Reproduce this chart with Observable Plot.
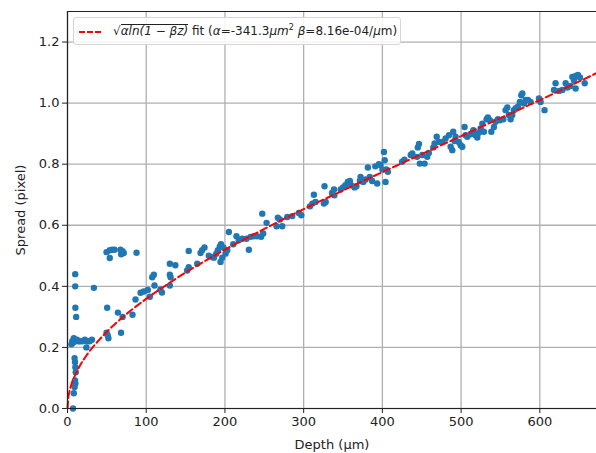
<!DOCTYPE html>
<html>
<head>
<meta charset="utf-8">
<script src="https://cdn.jsdelivr.net/npm/d3@7"></script>
<script src="https://cdn.jsdelivr.net/npm/@observablehq/plot@0.6"></script>
<style>
  html, body { margin: 0; padding: 0; background: #fff; }
  #wrap { position: relative; width: 596px; height: 453px; font-family: "DejaVu Sans", sans-serif; }
  #legend {
    position: absolute; left: 73px; top: 17px; width: 328px; height: 28px;
    background: rgba(255,255,255,0.85); border: 1px solid #d6d6d6; border-radius: 3px;
    box-sizing: border-box; font-size: 12px; color: #222; white-space: nowrap;
  }
  #legend .sample { position: absolute; left: 5px; top: 13px; width: 22px; height: 0;
    border-top: 2px dashed #ff0000; }
  #legend .txt { position: absolute; left: 39px; top: 5px; }
  .sq { display: inline-block; border-top: 1px solid #222; font-style: italic; line-height: 13px; }
</style>
</head>
<body>
<div id="wrap"><div id="legend"><div class="sample"></div><div class="txt">&#8730;<span class="sq">&#945;ln(1 &#8722; &#946;z)</span> fit (<i>&#945;</i>=-341.3<i>&#956;m</i><sup style="font-size:8px">2</sup> <i>&#946;</i>=8.16e-04/<i>&#956;</i>m)</div></div></div>
<script>
// Scatter data: depth (µm) and spread (pixel)
const depth = [
  7, 9.8, 9.8, 10, 11,
  5, 6, 7, 8, 10, 12, 14, 16, 19, 22, 25, 28, 31, 24,
  9, 9.5, 10, 10.5, 9.5, 10, 9, 8,
  33.5,
  49.6, 53.7, 56.8, 59.7, 67.3, 69.9, 71.5, 68.2, 53.7, 87.7,
  50.4, 49.6, 52, 51,
  64, 70, 68, 82.6, 86.4, 92.8, 97, 102, 104.6, 107.6, 109.7, 110.5, 118, 120, 130, 130, 131, 130, 137,
  152, 154, 154, 164.8, 169, 171, 174, 179.5, 184, 186, 189, 191, 193.5, 195, 198, 196.6, 194.4, 200.8, 203, 205,
  210.5, 214.7, 217.6, 227.4, 230.4, 232.5, 236.7, 246, 247.4, 248.6, 252.9, 265.6, 267.2, 269.8, 272.8, 279.2,
  285.5, 293.9, 297, 308, 311, 313, 315, 222, 241,
  325.7, 326.5, 328, 336, 338.5, 339, 347, 350, 353, 356, 358.7, 360.5, 364.7, 367, 371.4, 372.3, 375.7, 378.7,
  381.6, 384, 387, 391, 393.4, 395.6, 397.7, 400, 402, 403, 404, 405, 407, 425, 428, 436, 438, 444, 445, 446.5,
  447.6, 450.7, 453.6, 457, 459, 464.7, 466.3, 469, 471.8,
  476, 480.3, 484.5, 486.7, 488.8, 490, 491.7, 493, 497, 499.4, 501.5, 504.4, 505.7, 507.9, 512, 515.5, 518.4,
  520.6, 522.6, 524.8, 527, 529, 532.4, 534, 536.6, 538.4, 541.7, 543.8, 546.8, 549.3, 553.6, 556.5, 558.7,
  560.7, 562.9, 565, 567, 569.3, 572.2, 574.7, 576.5, 577.8, 579.8, 582, 584.9, 588.3, 598.9, 601, 606,
  618, 620, 624.3, 628.6, 632.8, 635, 639, 641.3, 643.3, 645.5, 648.4, 651, 645.5, 657
];
const spread = [
  0.00, 0.44, 0.40, 0.33, 0.30,
  0.21, 0.22, 0.215, 0.23, 0.22, 0.225, 0.22, 0.22, 0.22, 0.225, 0.22, 0.22, 0.225, 0.20,
  0.165, 0.152, 0.135, 0.119, 0.092, 0.082, 0.07, 0.05,
  0.395,
  0.512, 0.518, 0.52, 0.52, 0.52, 0.515, 0.509, 0.505, 0.493, 0.51,
  0.33, 0.248, 0.23, 0.24,
  0.314, 0.30, 0.248, 0.307, 0.357, 0.379, 0.383, 0.388, 0.366, 0.43, 0.438, 0.403, 0.39, 0.38, 0.474, 0.438, 0.43, 0.403, 0.469,
  0.452, 0.463, 0.516, 0.474, 0.509, 0.518, 0.527, 0.50, 0.496, 0.494, 0.507, 0.518, 0.531, 0.538, 0.527, 0.494, 0.48, 0.507, 0.518, 0.578,
  0.538, 0.564, 0.551, 0.556, 0.52, 0.562, 0.564, 0.562, 0.638, 0.573, 0.608, 0.597, 0.625, 0.619, 0.597, 0.627,
  0.63, 0.64, 0.633, 0.662, 0.671, 0.70, 0.676, 0.556, 0.564,
  0.671, 0.728, 0.676, 0.706, 0.717, 0.698, 0.717, 0.724, 0.731, 0.742, 0.745, 0.731, 0.724, 0.728, 0.745, 0.758, 0.742, 0.75,
  0.789, 0.758, 0.745, 0.793, 0.737, 0.80, 0.797, 0.783, 0.84, 0.813, 0.742, 0.783, 0.775, 0.808, 0.815, 0.83, 0.835, 0.824, 0.855, 0.866,
  0.802, 0.83, 0.802, 0.824, 0.837, 0.855, 0.868, 0.89, 0.873,
  0.873, 0.884, 0.895, 0.857, 0.846, 0.906, 0.876, 0.89, 0.873, 0.862, 0.857, 0.922, 0.895, 0.89, 0.898, 0.911, 0.895,
  0.887, 0.903, 0.917, 0.933, 0.906, 0.947, 0.953, 0.944, 0.906, 0.922, 0.939, 0.947, 0.944, 0.947, 0.977, 0.986,
  0.961, 0.947, 0.961, 0.977, 0.983, 0.988, 1.004, 1.026, 1.032, 0.999, 1.01, 1.01, 1.004, 1.015, 1.004, 0.977,
  1.043, 1.065, 1.04, 1.043, 1.065, 1.051, 1.056, 1.086, 1.075, 1.089, 1.092, 1.084, 1.048, 1.065
];
// Fit curve
const fitDepth  = [0, 1, 2, 5, 10, 15, 25, 40, 60, 80, 100, 130, 160, 200, 250, 300, 350, 400, 450, 500, 550, 600, 650, 672];
const fitSpread = [0, 0.035, 0.050, 0.079, 0.111, 0.137, 0.177, 0.224, 0.276, 0.320, 0.359, 0.412, 0.461, 0.520, 0.588, 0.653, 0.714, 0.774, 0.833, 0.892, 0.951, 1.010, 1.071, 1.098];
const xTicks = [0, 100, 200, 300, 400, 500, 600];
const yTicks = [0.0, 0.2, 0.4, 0.6, 0.8, 1.0, 1.2];

const pts = depth.map((d, i) => ({depth: d, spread: spread[i]}));
const fit = fitDepth.map((d, i) => ({depth: d, spread: fitSpread[i]}));

const chart = Plot.plot({
  width: 596,
  height: 453,
  marginLeft: 67,
  marginRight: 0,
  marginTop: 11,
  marginBottom: 45,
  style: {fontFamily: "DejaVu Sans, sans-serif", fontSize: "13px", color: "#222", background: "white", overflow: "visible"},
  x: {domain: [0, 672]},
  y: {domain: [0, 1.3]},
  marks: [
    Plot.gridX(xTicks, {stroke: "#b0b0b0", strokeOpacity: 1, strokeWidth: 1.3}),
    Plot.gridY(yTicks, {stroke: "#b0b0b0", strokeOpacity: 1, strokeWidth: 1.3}),
    Plot.axisX(xTicks, {tickSize: 5, tickPadding: 3, fontSize: 13, stroke: "#222",
      label: "Depth (μm)", labelAnchor: "center", labelArrow: "none", labelOffset: 40}),
    Plot.axisY(yTicks, {tickSize: 5, tickPadding: 3, fontSize: 13, stroke: "#222", tickFormat: d => d.toFixed(1),
      label: "Spread (pixel)", labelAnchor: "center", labelArrow: "none", labelOffset: 52}),
    Plot.dot(pts, {x: "depth", y: "spread", r: 3.2, fill: "#1f77b4", stroke: "none"}),
    Plot.line(fit, {x: "depth", y: "spread", stroke: "#ff0000", strokeWidth: 2, strokeDasharray: "7,3.5", curve: "monotone-x"}),
    Plot.ruleX([0], {stroke: "#222", strokeWidth: 1.2}),
    Plot.ruleY([0], {stroke: "#222", strokeWidth: 1.2}),
    Plot.ruleY([1.3], {stroke: "#222", strokeWidth: 1.2})
  ]
});
const wrap = document.getElementById("wrap");
wrap.insertBefore(chart, wrap.firstChild);
</script>
</body>
</html>
